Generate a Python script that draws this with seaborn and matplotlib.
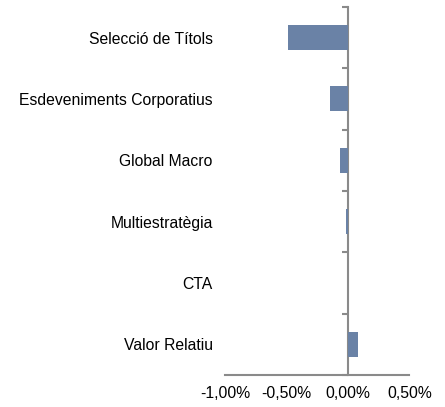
import pandas as pd
import matplotlib
matplotlib.use("Agg")
import matplotlib.pyplot as plt
import seaborn as sns

# data (contribution, %)
estrategies = ["Selecció de Títols", "Esdeveniments Corporatius", "Global Macro",
               "Multiestratègia", "CTA", "Valor Relatiu"]
contribucio = [-0.485, -0.145, -0.063, -0.014, 0.0, 0.081]
x_ticks = [-1.0, -0.5, 0.0, 0.5]
x_labels = ["-1,00%", "-0,50%", "0,00%", "0,50%"]

df = pd.DataFrame({"estrategia": estrategies, "valor": contribucio})

sns.set_style("white")
plt.rcParams["font.family"] = ["Liberation Sans", "DejaVu Sans"]

axis_grey = "#8a8a8a"
fig = plt.figure(figsize=(4.45, 4.07), dpi=100)
ax = fig.add_axes([0.506, 0.079, 0.414, 0.904])

sns.barplot(data=df, x="valor", y="estrategia", orient="h", color="#6a82a6",
            saturation=1, width=0.41, linewidth=0, ax=ax)

ax.set_xlim(-1.0, 0.5)
ax.set_ylim(5.5, -0.5)
ax.set_xlabel("")
ax.set_ylabel("")

for s in ["top", "right", "left"]:
    ax.spines[s].set_visible(False)
ax.spines["bottom"].set_color(axis_grey)
ax.spines["bottom"].set_linewidth(1.5)

ax.set_xticks(x_ticks)
ax.set_xticklabels(x_labels, fontsize=11.3)
ax.tick_params(axis="x", length=4, width=1.5, color=axis_grey, pad=4,
               direction="out", labelcolor="black")
ax.tick_params(axis="y", length=0, pad=9, labelsize=11.3, labelcolor="black")

# vertical axis at zero with boundary ticks
sec = ax.secondary_yaxis(2 / 3)
for s in sec.spines.values():
    s.set_color(axis_grey)
    s.set_linewidth(1.5)
sec.yaxis.set_ticks_position("left")
sec.set_yticks([i + 0.5 for i in range(-1, len(estrategies))])
sec.set_yticklabels([])
sec.tick_params(axis="y", length=4, width=1.5, color=axis_grey, direction="out")

fig.savefig("out.png", dpi=100)
